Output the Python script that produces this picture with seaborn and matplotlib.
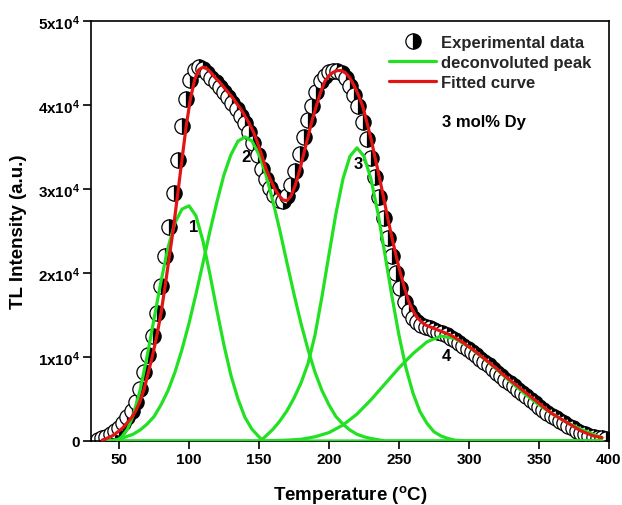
import matplotlib
matplotlib.use("Agg")
import matplotlib.pyplot as plt
import pandas as pd
import seaborn as sns
from matplotlib.lines import Line2D

# ---------------- data (intensity in units of 1e4 a.u.) ----------------
exp_T = [35, 38, 41, 44, 47, 50, 53, 56, 59, 62, 65, 68, 71, 74, 77, 80, 83, 86, 89, 92,
         95, 98, 101, 104, 107, 110, 113, 116, 119, 122, 125, 128, 131, 134, 137, 140, 143,
         146, 149, 152, 155, 158, 161, 164, 167, 170, 173, 176, 179, 182, 185, 188, 191, 194,
         197, 200, 203, 206, 209, 212, 215, 218, 221, 224, 227, 230, 233, 236, 239, 242, 245,
         248, 251, 254, 257, 260, 263, 266, 269, 272, 275, 278, 281, 284, 287, 290, 293, 296,
         299, 302, 305, 308, 311, 314, 317, 320, 323, 326, 329, 332, 335, 338, 341, 344, 347,
         350, 353, 356, 359, 362, 365, 368, 371, 374, 377, 380, 383, 386, 389, 392, 395, 398]
exp_I = [0.01, 0.03, 0.05, 0.08, 0.12, 0.16, 0.22, 0.28, 0.36, 0.47, 0.62, 0.82, 1.02, 1.25,
         1.52, 1.85, 2.20, 2.55, 2.95, 3.35, 3.75, 4.07, 4.30, 4.42, 4.45, 4.43, 4.38, 4.32,
         4.27, 4.21, 4.15, 4.09, 4.02, 3.95, 3.87, 3.78, 3.68, 3.55, 3.40, 3.24, 3.12, 3.01,
         2.93, 2.87, 2.86, 2.92, 3.05, 3.22, 3.42, 3.62, 3.82, 3.99, 4.15, 4.28, 4.35, 4.39,
         4.41, 4.41, 4.38, 4.32, 4.23, 4.12, 3.99, 3.80, 3.60, 3.37, 3.14, 2.90, 2.65, 2.42,
         2.20, 2.00, 1.82, 1.66, 1.55, 1.47, 1.42, 1.38, 1.36, 1.34, 1.32, 1.30, 1.28, 1.26,
         1.23, 1.20, 1.17, 1.13, 1.10, 1.06, 1.02, 0.98, 0.94, 0.90, 0.86, 0.81, 0.77, 0.73,
         0.69, 0.65, 0.61, 0.57, 0.53, 0.49, 0.45, 0.41, 0.37, 0.33, 0.30, 0.27, 0.24, 0.21,
         0.18, 0.15, 0.12, 0.10, 0.08, 0.06, 0.05, 0.04, 0.03, 0.02]

fit_T = [38, 41, 44, 47, 50, 53, 56, 59, 62, 65, 68, 71, 74, 77, 80, 83, 86, 89, 92, 95, 98,
         101, 104, 107, 110, 113, 116, 119, 122, 125, 128, 131, 134, 137, 140, 143, 146, 149,
         152, 155, 158, 161, 164, 167, 170, 173, 176, 179, 182, 185, 188, 191, 194, 197, 200,
         203, 206, 209, 212, 215, 218, 221, 224, 227, 230, 233, 236, 239, 242, 245, 248, 251,
         254, 257, 260, 263, 266, 269, 272, 275, 278, 281, 284, 287, 290, 293, 296, 299, 302,
         305, 308, 311, 314, 317, 320, 323, 326, 329, 332, 335, 338, 341, 344, 347, 350, 353,
         356, 359, 362, 365, 368, 371, 374, 377, 380, 383, 386, 389, 392, 395]
fit_I = [0.01, 0.03, 0.05, 0.08, 0.12, 0.16, 0.22, 0.28, 0.36, 0.47, 0.62, 0.82, 1.02, 1.25,
         1.52, 1.85, 2.20, 2.55, 2.95, 3.35, 3.75, 4.07, 4.30, 4.42, 4.45, 4.43, 4.38, 4.32,
         4.27, 4.21, 4.15, 4.09, 4.02, 3.95, 3.87, 3.78, 3.68, 3.55, 3.40, 3.24, 3.12, 3.01,
         2.93, 2.87, 2.86, 2.92, 3.05, 3.22, 3.42, 3.62, 3.82, 3.99, 4.15, 4.28, 4.35, 4.39,
         4.41, 4.41, 4.38, 4.32, 4.23, 4.12, 3.99, 3.80, 3.60, 3.37, 3.14, 2.90, 2.65, 2.42,
         2.20, 2.00, 1.82, 1.66, 1.55, 1.47, 1.42, 1.38, 1.36, 1.34, 1.32, 1.30, 1.28, 1.26,
         1.23, 1.20, 1.17, 1.13, 1.10, 1.06, 1.02, 0.98, 0.94, 0.90, 0.86, 0.81, 0.77, 0.73,
         0.69, 0.65, 0.61, 0.57, 0.53, 0.49, 0.45, 0.41, 0.37, 0.33, 0.30, 0.27, 0.24, 0.21,
         0.18, 0.15, 0.12, 0.10, 0.08, 0.06, 0.05, 0.04]

peak1_T = [42, 48, 52, 56, 60, 65, 70, 75, 80, 85, 90, 95, 100, 105, 110, 115, 120, 125, 130,
           135, 140, 145, 150, 153, 395]
peak1_I = [0.0, 0.0, 0.05, 0.14, 0.30, 0.60, 1.00, 1.45, 1.90, 2.30, 2.60, 2.76, 2.80, 2.68,
           2.38, 1.98, 1.55, 1.14, 0.78, 0.50, 0.28, 0.14, 0.05, 0.0, 0.0]

peak2_T = [42, 50, 55, 60, 65, 70, 75, 80, 85, 90, 95, 100, 105, 110, 115, 120, 125, 130, 135,
           140, 145, 150, 155, 160, 165, 170, 175, 180, 185, 190, 195, 200, 205, 210, 215, 220,
           225, 230, 240, 395]
peak2_I = [0.0, 0.02, 0.05, 0.08, 0.13, 0.20, 0.29, 0.43, 0.60, 0.82, 1.09, 1.40, 1.75, 2.12,
           2.50, 2.85, 3.17, 3.41, 3.57, 3.62, 3.57, 3.41, 3.17, 2.85, 2.50, 2.12, 1.75, 1.40,
           1.09, 0.82, 0.60, 0.43, 0.29, 0.20, 0.13, 0.08, 0.05, 0.03, 0.0, 0.0]

peak3_T = [42, 151, 155, 160, 165, 170, 175, 180, 185, 190, 195, 200, 205, 210, 215, 220,
           225, 230, 235, 240, 245, 250, 255, 260, 265, 270, 275, 280, 285, 290, 300, 395]
peak3_I = [0.0, 0.0, 0.06, 0.14, 0.24, 0.36, 0.51, 0.69, 0.92, 1.26, 1.72, 2.22, 2.71,
           3.12, 3.39, 3.49, 3.39, 3.12, 2.71, 2.22, 1.72, 1.26, 0.87, 0.57, 0.35, 0.21, 0.11,
           0.06, 0.03, 0.01, 0.0, 0.0]

peak4_T = [42, 150, 170, 180, 190, 200, 210, 220, 230, 240, 250, 260, 270, 280, 290, 300, 310,
           320, 330, 340, 350, 360, 370, 380, 390, 395]
peak4_I = [0.0, 0.0, 0.01, 0.02, 0.05, 0.10, 0.19, 0.32, 0.49, 0.68, 0.87, 1.04, 1.18, 1.25,
           1.22, 1.12, 0.99, 0.85, 0.70, 0.56, 0.43, 0.32, 0.22, 0.14, 0.07, 0.04]

peak_labels = ["1", "2", "3", "4"]
peak_label_T = [103, 141, 221, 284]
peak_label_I = [2.55, 3.39, 3.30, 1.02]

y_ticks = [0, 1, 2, 3, 4, 5]
y_ticklabels = ["0", "1x10$^{4}$", "2x10$^{4}$", "3x10$^{4}$", "4x10$^{4}$", "5x10$^{4}$"]
x_ticks = [50, 100, 150, 200, 250, 300, 350, 400]

SCALE = 1e4
GREEN = "#22E022"
RED = "#E21414"

# ---------------- styling ----------------
sns.set_theme(style="white")
plt.rcParams["font.family"] = ["Liberation Sans", "DejaVu Sans"]
plt.rcParams["font.weight"] = "bold"
plt.rcParams["axes.labelweight"] = "bold"
plt.rcParams["mathtext.fontset"] = "custom"
plt.rcParams["mathtext.rm"] = "Liberation Sans:bold"
plt.rcParams["mathtext.it"] = "Liberation Sans:bold"
plt.rcParams["mathtext.bf"] = "Liberation Sans:bold"

fig = plt.figure(figsize=(6.22, 5.06), dpi=100)
ax = fig.add_axes([0.1463, 0.1265, 0.8327, 0.83])

# experimental data (half-filled circles)
df_exp = pd.DataFrame({"T": exp_T, "I": [v * SCALE for v in exp_I]})
sns.lineplot(data=df_exp, x="T", y="I", ax=ax, sort=False, estimator=None,
             linestyle="none", marker="o", markersize=11, fillstyle="right",
             markerfacecolor="black", markerfacecoloralt="white",
             markeredgecolor="black", markeredgewidth=0.9, zorder=2)

# deconvoluted peaks
for pT, pI in [(peak1_T, peak1_I), (peak2_T, peak2_I), (peak3_T, peak3_I), (peak4_T, peak4_I)]:
    d = pd.DataFrame({"T": pT, "I": [v * SCALE for v in pI]})
    sns.lineplot(data=d, x="T", y="I", ax=ax, sort=False, estimator=None,
                 color=GREEN, linewidth=2.3, zorder=3)

# fitted curve
df_fit = pd.DataFrame({"T": fit_T, "I": [v * SCALE for v in fit_I]})
sns.lineplot(data=df_fit, x="T", y="I", ax=ax, sort=False, estimator=None,
             color=RED, linewidth=2.3, zorder=4)

for lab, t, i in zip(peak_labels, peak_label_T, peak_label_I):
    ax.text(t, i * SCALE, lab, ha="center", va="center", fontsize=12,
            fontweight="bold", color="black", zorder=5)

ax.set_xlim(30, 400)
ax.set_ylim(0, 5 * SCALE)
ax.set_xticks(x_ticks)
ax.set_xticklabels([str(v) for v in x_ticks])
ax.set_yticks([v * SCALE for v in y_ticks])
ax.set_yticklabels(y_ticklabels)
ax.tick_params(axis="both", which="both", direction="out", length=6, width=1.2,
               bottom=True, left=True, top=False, right=False, labelsize=11,
               color="black", labelcolor="black", pad=2)
for lbl in ax.get_xticklabels() + ax.get_yticklabels():
    lbl.set_fontweight("bold")
for sp in ax.spines.values():
    sp.set_color("black")
    sp.set_linewidth(1.2)

ax.set_xlabel("Temperature ($^{\\mathrm{o}}$C)", fontsize=13.5, fontweight="bold",
              color="black", labelpad=12)
ax.set_ylabel("TL Intensity (a.u.)", fontsize=13.5, fontweight="bold",
              color="black", labelpad=8)

handles = [
    Line2D([], [], linestyle="none", marker="o", markersize=11, fillstyle="right",
           markerfacecolor="black", markerfacecoloralt="white", markeredgecolor="black",
           markeredgewidth=0.9),
    Line2D([], [], color=GREEN, linewidth=2.3),
    Line2D([], [], color=RED, linewidth=2.3),
]
labels = ["Experimental data", "deconvoluted peak", "Fitted curve"]
leg = ax.legend(handles, labels, loc="upper left", bbox_to_anchor=(0.576, 0.966),
                frameon=False, fontsize=12, handlelength=2.8, handletextpad=0.3,
                labelspacing=0.3, borderpad=0, borderaxespad=0)
for t in leg.get_texts():
    t.set_fontweight("bold")

ax.text(0.759, 0.76, "3 mol% Dy", transform=ax.transAxes, ha="center", va="center",
        fontsize=12, fontweight="bold", color="black")

fig.savefig("out.png", dpi=100)
